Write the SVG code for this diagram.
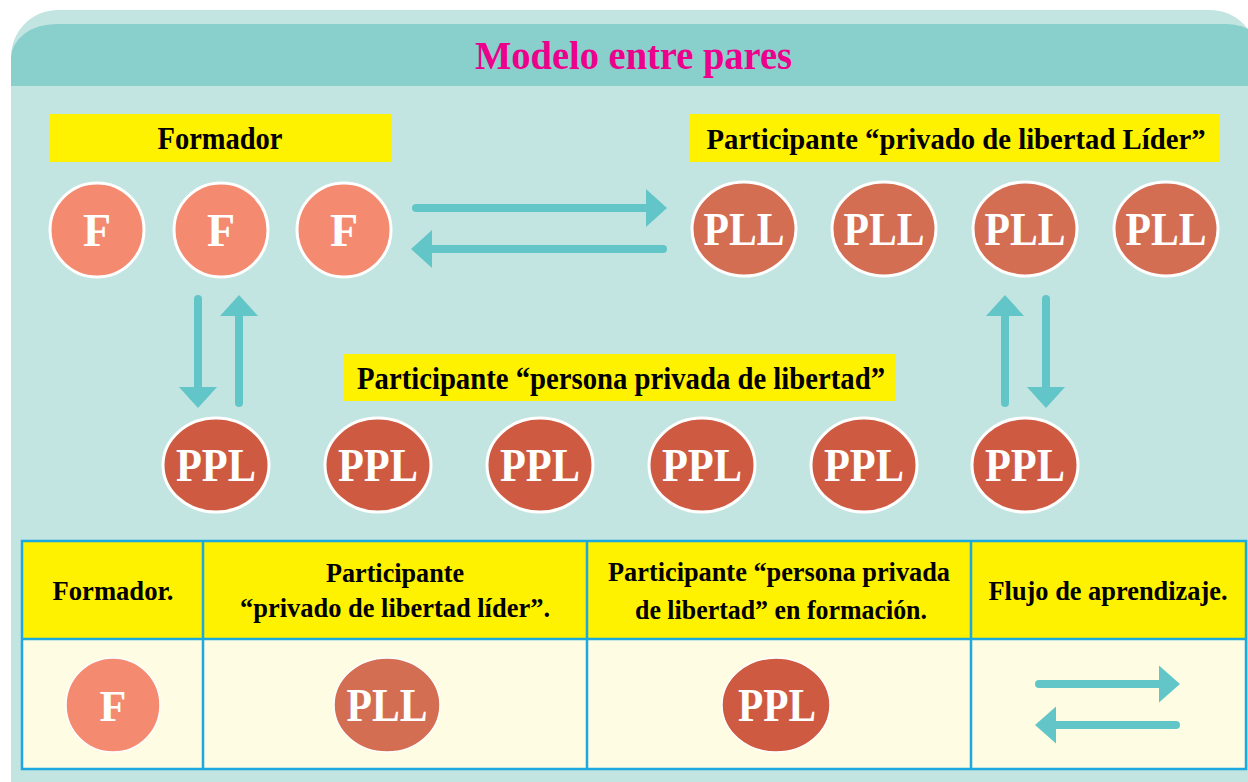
<svg xmlns="http://www.w3.org/2000/svg" width="1248" height="782" viewBox="0 0 1248 782">
<defs>
<marker id="ah" markerUnits="userSpaceOnUse" markerWidth="21" markerHeight="38" refX="0" refY="19" orient="auto">
<path d="M0,0 L21,19 L0,38 Z" fill="#62C6C8"/>
</marker>
<marker id="ah2" markerUnits="userSpaceOnUse" markerWidth="21" markerHeight="37" refX="0" refY="18.5" orient="auto">
<path d="M0,0 L21,18.5 L0,37 Z" fill="#62C6C8"/>
</marker>
<style>
text{font-family:"Liberation Serif","Times New Roman",serif;font-weight:bold;text-anchor:middle}
.lbl{font-size:32px;fill:#000}
.th{font-size:28px;fill:#000}
.nt{fill:#fff;font-size:46px}
.f{fill:#F48A70;stroke:#fff;stroke-width:3}
.pll{fill:#D46E53;stroke:#fff;stroke-width:3}
.ppl{fill:#CF5A42;stroke:#fff;stroke-width:3}
.ysl{fill:#FFF200}
.ar{stroke:#62C6C8;stroke-width:8;stroke-linecap:round;fill:none;marker-end:url(#ah)}
.ar2{stroke:#62C6C8;stroke-width:8;stroke-linecap:round;fill:none;marker-end:url(#ah2)}
.tb{stroke:#1BA9E0;stroke-width:2.5;fill:none}
</style>
</defs>
<rect width="1248" height="782" fill="#ffffff"/>
<path d="M11,782 V57 A47,47 0 0 1 58,10 H1210 A47,47 0 0 1 1257,57 V782 Z" fill="#C3E5E2"/>
<path d="M11,86 V58 A45,34 0 0 1 56,24 H1227 A40,34 0 0 1 1267,58 V86 Z" fill="#89CFCB"/>
<text id="title" x="633.5" y="69" style="font-size:40px;fill:#EC008C" textLength="317" lengthAdjust="spacingAndGlyphs">Modelo entre pares</text>

<g id="label-formador">
<rect class="ysl" x="49" y="114" width="342" height="48"/>
<text class="lbl" x="220" y="149" textLength="125" lengthAdjust="spacingAndGlyphs">Formador</text>
</g>
<g id="label-pll">
<rect class="ysl" x="690" y="114" width="530" height="48"/>
<text class="lbl" x="956" y="149" style="font-size:30px" textLength="499" lengthAdjust="spacingAndGlyphs">Participante “privado de libertad Líder”</text>
</g>
<g id="label-ppl">
<rect class="ysl" x="344" y="354" width="552" height="47"/>
<text class="lbl" x="621" y="389" textLength="528" lengthAdjust="spacingAndGlyphs">Participante “persona privada de libertad”</text>
</g>

<g id="f1"><circle class="f" cx="97" cy="230" r="47"/><text class="nt" x="97" y="246">F</text></g>
<g id="f2"><circle class="f" cx="221" cy="230" r="47"/><text class="nt" x="221" y="246">F</text></g>
<g id="f3"><circle class="f" cx="344" cy="230" r="47"/><text class="nt" x="344" y="246">F</text></g>

<g id="pll1"><ellipse class="pll" cx="744" cy="229" rx="52" ry="47"/><text class="nt" x="744" y="245" textLength="81" lengthAdjust="spacingAndGlyphs">PLL</text></g>
<g id="pll2"><ellipse class="pll" cx="884" cy="229" rx="52" ry="47"/><text class="nt" x="884" y="245" textLength="81" lengthAdjust="spacingAndGlyphs">PLL</text></g>
<g id="pll3"><ellipse class="pll" cx="1025" cy="229" rx="52" ry="47"/><text class="nt" x="1025" y="245" textLength="81" lengthAdjust="spacingAndGlyphs">PLL</text></g>
<g id="pll4"><ellipse class="pll" cx="1166" cy="229" rx="52" ry="47"/><text class="nt" x="1166" y="245" textLength="81" lengthAdjust="spacingAndGlyphs">PLL</text></g>

<g id="ppl1"><ellipse class="ppl" cx="216" cy="465" rx="53" ry="47"/><text class="nt" x="216" y="481" textLength="80" lengthAdjust="spacingAndGlyphs">PPL</text></g>
<g id="ppl2"><ellipse class="ppl" cx="378" cy="465" rx="53" ry="47"/><text class="nt" x="378" y="481" textLength="80" lengthAdjust="spacingAndGlyphs">PPL</text></g>
<g id="ppl3"><ellipse class="ppl" cx="540" cy="465" rx="53" ry="47"/><text class="nt" x="540" y="481" textLength="80" lengthAdjust="spacingAndGlyphs">PPL</text></g>
<g id="ppl4"><ellipse class="ppl" cx="702" cy="465" rx="53" ry="47"/><text class="nt" x="702" y="481" textLength="80" lengthAdjust="spacingAndGlyphs">PPL</text></g>
<g id="ppl5"><ellipse class="ppl" cx="864" cy="465" rx="53" ry="47"/><text class="nt" x="864" y="481" textLength="80" lengthAdjust="spacingAndGlyphs">PPL</text></g>
<g id="ppl6"><ellipse class="ppl" cx="1025" cy="465" rx="53" ry="47"/><text class="nt" x="1025" y="481" textLength="80" lengthAdjust="spacingAndGlyphs">PPL</text></g>

<g id="connectors">
<path class="ar" d="M416,208 H646"/>
<path class="ar" d="M663,249 H432"/>
<path class="ar" d="M198,299 V387"/>
<path class="ar" d="M239,403 V316"/>
<path class="ar" d="M1005,403 V316"/>
<path class="ar" d="M1046,299 V387"/>
</g>

<g id="legend">
<rect x="22" y="541" width="1224" height="98" fill="#FFF200"/>
<rect x="22" y="639" width="1224" height="130" fill="#FEFCE3"/>
<rect class="tb" x="22" y="541" width="1224" height="228"/>
<path class="tb" d="M22,639 H1246 M203,541 V769 M587,541 V769 M971,541 V769"/>
<text class="th" x="113" y="600" textLength="121" lengthAdjust="spacingAndGlyphs">Formador.</text>
<text class="th" x="395" y="582" textLength="138" lengthAdjust="spacingAndGlyphs">Participante</text>
<text class="th" x="395" y="617" textLength="310" lengthAdjust="spacingAndGlyphs">“privado de libertad líder”.</text>
<text class="th" x="779" y="581" textLength="342" lengthAdjust="spacingAndGlyphs">Participante “persona privada</text>
<text class="th" x="781" y="619" textLength="292" lengthAdjust="spacingAndGlyphs">de libertad” en formación.</text>
<text class="th" x="1108" y="600" textLength="239" lengthAdjust="spacingAndGlyphs">Flujo de aprendizaje.</text>
<g id="legend-f"><ellipse class="f" style="stroke-width:1.5" cx="113" cy="705" rx="47" ry="47"/><text class="nt" x="113" y="721" style="font-size:44px">F</text></g>
<g id="legend-pll"><ellipse class="pll" style="stroke-width:1.5" cx="387" cy="705" rx="53" ry="47"/><text class="nt" x="387" y="721" textLength="81" lengthAdjust="spacingAndGlyphs">PLL</text></g>
<g id="legend-ppl"><ellipse class="ppl" style="stroke-width:1.5" cx="776" cy="705" rx="54" ry="47"/><text class="nt" x="777" y="721" textLength="78" lengthAdjust="spacingAndGlyphs">PPL</text></g>
<g id="legend-flow">
<path class="ar2" d="M1039,684 H1159"/>
<path class="ar2" d="M1176,725 H1056"/>
</g>
</g>
</svg>
